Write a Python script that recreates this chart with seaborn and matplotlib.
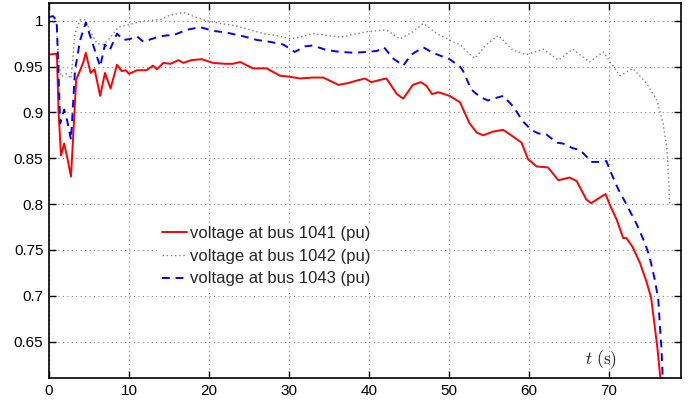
import matplotlib
matplotlib.use("Agg")
import matplotlib.pyplot as plt
import seaborn as sns
import pandas as pd

# bus 1041 voltage (pu)
t_1041 = [0, 0.9, 1.0, 1.2, 1.5, 1.9, 2.3, 2.75, 3.0, 3.4, 3.9, 4.3, 4.6, 5.2, 5.7, 6.4,
          7.0, 7.7, 8.5, 9.1, 9.6, 10.0, 11.0, 12.2, 13.0, 13.5, 14.3, 15.2, 16.2, 16.8,
          17.8, 19.1, 20.5, 22.0, 23.0, 23.9, 25.5, 27.2, 28.9, 30.0, 31.4, 33.0, 34.3,
          36.2, 37.4, 38.2, 39.5, 40.3, 41.2, 42.2, 43.5, 44.3, 45.5, 46.5, 47.2, 47.9,
          48.7, 50.1, 51.4, 52.6, 53.5, 54.3, 55.5, 56.8, 57.8, 59.1, 59.9, 61.0, 62.4,
          63.7, 65.1, 66.0, 67.2, 67.8, 68.7, 69.6, 70.1, 71.0, 71.8, 72.2, 73.0, 73.9,
          74.7, 75.3, 75.75, 76.1, 76.4, 76.6]
v_1041 = [0.963, 0.964, 0.96, 0.90, 0.853, 0.866, 0.85, 0.830, 0.87, 0.936, 0.946, 0.955,
          0.965, 0.943, 0.947, 0.918, 0.943, 0.926, 0.952, 0.945, 0.946, 0.942, 0.946,
          0.946, 0.951, 0.947, 0.954, 0.953, 0.957, 0.954, 0.957, 0.958, 0.954, 0.953,
          0.953, 0.955, 0.948, 0.948, 0.940, 0.939, 0.937, 0.938, 0.938, 0.930, 0.932,
          0.934, 0.937, 0.933, 0.935, 0.937, 0.920, 0.915, 0.930, 0.933, 0.929, 0.920,
          0.922, 0.918, 0.911, 0.888, 0.878, 0.875, 0.879, 0.881, 0.875, 0.867, 0.849,
          0.841, 0.840, 0.826, 0.829, 0.825, 0.805, 0.801, 0.806, 0.811, 0.800, 0.783,
          0.763, 0.763, 0.753, 0.736, 0.716, 0.698, 0.667, 0.642, 0.615, 0.60]

# bus 1042 voltage (pu)
t_1042 = [0, 0.9, 1.2, 1.5, 2.2, 2.75, 3.25, 3.9, 4.5, 5.1, 6.0, 6.8, 7.6, 8.7, 9.7, 11.0,
          12.2, 13.9, 15.1, 16.8, 18.0, 19.7, 21.4, 23.0, 23.9, 26.8, 28.9, 30.3, 33.0,
          36.4, 39.7, 42.2, 43.9, 45.5, 46.8, 48.5, 50.5, 51.4, 52.4, 53.25, 54.7, 56.2,
          58.0, 59.7, 61.8, 63.7, 65.5, 67.6, 69.3, 71.4, 73.0, 74.7, 76.0, 76.8, 77.3,
          77.5, 77.6]
v_1042 = [0.998, 0.998, 0.96, 0.939, 0.942, 0.937, 0.986, 1.001, 1.001, 0.990, 0.975,
          0.974, 0.981, 0.993, 0.995, 0.998, 1.0, 1.001, 1.006, 1.009, 1.005, 1.000, 0.997,
          0.995, 0.993, 0.986, 0.983, 0.980, 0.986, 0.982, 0.988, 0.990, 0.980, 0.988,
          0.997, 0.986, 0.977, 0.974, 0.965, 0.959, 0.974, 0.984, 0.968, 0.963, 0.969,
          0.957, 0.969, 0.955, 0.966, 0.940, 0.948, 0.932, 0.914, 0.888, 0.859, 0.827,
          0.800]

# bus 1043 voltage (pu)
t_1043 = [0, 0.5, 0.96, 1.4, 1.9, 2.3, 2.75, 3.25, 3.9, 4.6, 5.5, 6.4, 7.0, 7.6, 8.5, 9.3,
          10.1, 11.0, 11.8, 13.5, 14.7, 15.5, 17.2, 18.9, 20.5, 22.2, 24.3, 26.0, 27.6,
          29.3, 30.75, 32.0, 33.0, 34.7, 36.4, 38.2, 39.7, 41.0, 41.9, 43.0, 44.3, 45.3,
          46.8, 48.0, 50.1, 51.4, 51.8, 52.8, 53.9, 54.9, 56.0, 56.8, 58.0, 59.3, 60.3,
          61.2, 62.2, 63.5, 64.3, 65.5, 66.4, 67.2, 67.8, 68.9, 69.7, 70.3, 71.2, 72.2,
          73.5, 74.5, 75.1, 75.75, 76.2, 76.4, 76.6, 76.8]
v_1043 = [1.004, 1.005, 1.0, 0.888, 0.903, 0.89, 0.870, 0.946, 0.979, 0.998, 0.974, 0.950,
          0.974, 0.968, 0.986, 0.979, 0.980, 0.983, 0.977, 0.982, 0.984, 0.984, 0.990,
          0.993, 0.989, 0.987, 0.983, 0.979, 0.977, 0.974, 0.966, 0.972, 0.973, 0.968,
          0.966, 0.965, 0.966, 0.967, 0.971, 0.959, 0.951, 0.963, 0.971, 0.965, 0.958,
          0.950, 0.945, 0.925, 0.917, 0.913, 0.916, 0.918, 0.907, 0.890, 0.881, 0.877,
          0.876, 0.867, 0.866, 0.861, 0.859, 0.852, 0.846, 0.846, 0.847, 0.834, 0.816,
          0.800, 0.778, 0.758, 0.743, 0.718, 0.696, 0.667, 0.642, 0.60]

labels = ["voltage at bus 1041 (pu)", "voltage at bus 1042 (pu)", "voltage at bus 1043 (pu)"]
x_ticks = [0, 10, 20, 30, 40, 50, 60, 70]
y_ticks = [0.65, 0.7, 0.75, 0.8, 0.85, 0.9, 0.95, 1.0]
y_tick_labels = ["0.65", "0.7", "0.75", "0.8", "0.85", "0.9", "0.95", "1"]

sns.set_style("ticks")
plt.rcParams["font.family"] = ["Liberation Sans", "DejaVu Sans"]
plt.rcParams["mathtext.fontset"] = "cm"

fig = plt.figure(figsize=(6.96, 4.01), dpi=100)
ax = fig.add_axes([0.0704, 0.0566, 0.9076, 0.9352])

styles = [
    dict(color="#ff0000", linestyle="-", linewidth=1.4),
    dict(color="#808080", linestyle=(0, (1, 2)), linewidth=1.0),
    dict(color="#0000ff", linestyle=(0, (4, 3)), linewidth=1.4),
]
series = [(t_1041, v_1041), (t_1042, v_1042), (t_1043, v_1043)]
for (tt, vv), lab, st in zip(series, labels, styles):
    df = pd.DataFrame({"t": tt, "v": vv})
    sns.lineplot(data=df, x="t", y="v", ax=ax, sort=False, estimator=None,
                 label=lab, **st)

ax.set_xlim(0, 79)
ax.set_ylim(0.61, 1.019)
ax.set_xticks(x_ticks)
ax.set_xticklabels([str(x) for x in x_ticks])
ax.set_yticks(y_ticks)
ax.set_yticklabels(y_tick_labels)
ax.set_xlabel("")
ax.set_ylabel("")

ax.grid(True, linestyle=(0, (1, 3)), color="#888888", linewidth=0.8)
ax.tick_params(direction="in", length=5, width=1, top=True, right=True,
               labelsize=11, colors="black", pad=4)
for sp in ax.spines.values():
    sp.set_visible(True)
    sp.set_linewidth(1.2)
    sp.set_color("black")

ax.text(0.874, 0.05, r"$t\ (\mathrm{s})$", transform=ax.transAxes,
        ha="center", va="center", fontsize=12.5, color="#222222")

leg = ax.legend(loc="upper left", bbox_to_anchor=(0.1736, 0.415), frameon=True,
                facecolor="white", edgecolor="none", framealpha=1.0, fancybox=False,
                borderaxespad=0, borderpad=0.2, handlelength=1.5, handletextpad=0.2,
                labelspacing=0.46, fontsize=12)

fig.savefig("out.png", dpi=100)
